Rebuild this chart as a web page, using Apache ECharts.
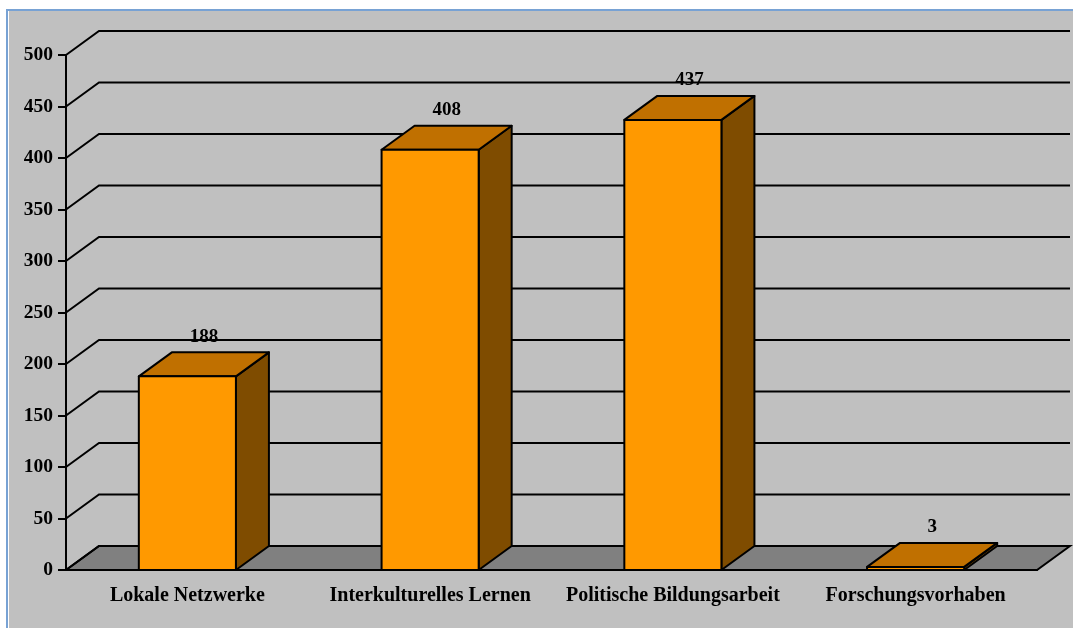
<!DOCTYPE html>
<html>
<head>
<meta charset="utf-8">
<script src="https://cdn.jsdelivr.net/npm/echarts@6/dist/echarts.min.js"></script>
<style>
  html, body { margin: 0; padding: 0; background: #fff; }
  #chart { width: 1073px; height: 628px; }
</style>
</head>
<body>
<div id="chart"></div>
<script>
// data
const categories = ["Lokale Netzwerke", "Interkulturelles Lernen", "Politische Bildungsarbeit", "Forschungsvorhaben"];
const values = [188, 408, 437, 3];
const yTicks = [0, 50, 100, 150, 200, 250, 300, 350, 400, 450, 500];

// 3d look
const DX = 33, DY = 24;
const FONT = "Liberation Serif";

const chart = echarts.init(document.getElementById("chart"));

function renderFloor(params, api) {
  const cs = params.coordSys;
  const y0 = api.coord([0, 0])[1];
  const x0 = cs.x, x1 = cs.x + cs.width;
  return {
    type: "polygon",
    shape: { points: [[x0, y0], [x1, y0], [x1 + DX, y0 - DY], [x0 + DX, y0 - DY]] },
    style: { fill: "#808080", stroke: "#000", lineWidth: 2 }
  };
}

function renderWall(params, api) {
  const cs = params.coordSys;
  const y = api.coord([0, api.value(0)])[1];
  const x0 = cs.x, x1 = cs.x + cs.width;
  return {
    type: "polyline",
    shape: { points: [[x0, y], [x0 + DX, y - DY], [x1 + DX, y - DY]] },
    style: { stroke: "#000", lineWidth: 2, fill: null }
  };
}

function renderBar(params, api) {
  const idx = api.value(0);
  const val = api.value(1);
  const top = api.coord([idx, val]);
  const base = api.coord([idx, 0]);
  const w = api.size([1, 0])[0] * 0.4;
  const xl = top[0] - w / 2, xr = top[0] + w / 2;
  const yt = top[1], yb = base[1];
  const edge = { stroke: "#000", lineWidth: 2, lineJoin: "round" };
  return {
    type: "group",
    children: [
      {
        type: "polygon",
        shape: { points: [[xr, yb], [xr + DX, yb - DY], [xr + DX, yt - DY], [xr, yt]] },
        style: Object.assign({ fill: "#7f4c00" }, edge)
      },
      {
        type: "polygon",
        shape: { points: [[xl, yt], [xr, yt], [xr + DX, yt - DY], [xl + DX, yt - DY]] },
        style: Object.assign({ fill: "#c07000" }, edge)
      },
      {
        type: "rect",
        shape: { x: xl, y: yt, width: w, height: yb - yt },
        style: Object.assign({ fill: "#ff9900" }, edge)
      },
      {
        type: "text",
        x: top[0] + DX / 2,
        y: yt - DY - 6,
        style: {
          text: String(val),
          fill: "#000",
          font: "bold 19px " + FONT,
          align: "center",
          verticalAlign: "bottom"
        }
      }
    ]
  };
}

chart.setOption({
  animation: false,
  graphic: [
    { type: "rect", z: -10, shape: { x: 9, y: 11, width: 1064, height: 617 }, style: { fill: "#c0c0c0" } },
    { type: "line", z: -9, shape: { x1: 7, y1: 10, x2: 1073, y2: 10 }, style: { stroke: "#78a2d4", lineWidth: 2 } },
    { type: "line", z: -9, shape: { x1: 7, y1: 9, x2: 7, y2: 628 }, style: { stroke: "#78a2d4", lineWidth: 2 } }
  ],
  grid: { left: 66, right: 36, top: 55, bottom: 58 },
  xAxis: {
    type: "category",
    data: categories,
    boundaryGap: true,
    axisLine: { lineStyle: { color: "#000", width: 2 } },
    axisTick: { length: 8, lineStyle: { color: "#000", width: 2 } },
    axisLabel: { color: "#000", fontFamily: FONT, fontWeight: "bold", fontSize: 20, margin: 16, interval: 0 },
    splitLine: { show: false }
  },
  yAxis: {
    type: "value",
    min: 0,
    max: 500,
    interval: 50,
    axisLine: { show: true, lineStyle: { color: "#000", width: 2 } },
    axisTick: { show: true, length: 8, lineStyle: { color: "#000", width: 2 } },
    axisLabel: { color: "#000", fontFamily: FONT, fontWeight: "bold", fontSize: 19.5, margin: 13 },
    splitLine: { show: false }
  },
  series: [
    { type: "custom", z: 1, renderItem: renderFloor, data: [[0]], silent: true },
    { type: "custom", z: 2, renderItem: renderWall, data: yTicks.map(v => [v]), silent: true },
    { type: "custom", z: 3, renderItem: renderBar, data: values.map((v, i) => [i, v]) }
  ]
});
</script>
</body>
</html>
